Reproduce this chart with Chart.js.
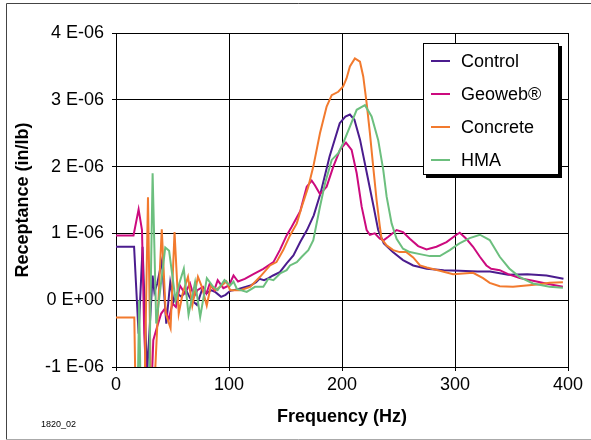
<!DOCTYPE html>
<html>
<head>
<meta charset="utf-8">
<script src="https://cdn.jsdelivr.net/npm/chart.js@4/dist/chart.umd.min.js"></script>
<style>
  html, body { margin: 0; padding: 0; background: #fff; }
  #wrap { width: 591px; height: 440px; position: relative; }
</style>
</head>
<body>
<div id="wrap"><canvas id="c" width="591" height="440"></canvas></div>
<script>
// Receptance values in units of 1E-06 in/lb, frequencies in Hz
const seriesNames = ["Control", "Geoweb®", "Concrete", "HMA"];
const seriesColors = ["#4b1c8e", "#cc0a7e", "#f27a2e", "#6cbf7e"];

const controlFreq = [0,16,20,23.5,27.5,32.4,34,36.5,40.6,44.5,48,51,54,58,62,66,71.6,76,80,84,88,93,97,101,107,113,119,124,127,131,135,139,145,151,157,163,169,175,181,189,198,203,207,211,216,222,228,232,237,245,254,263,275,290,304,320,331,347,364,381,396];
const controlVals = [0.8,0.8,-0.5,0.8,-1.1,0.37,0.12,0.25,0.59,-0.35,0.27,-0.02,0.1,0.05,0.15,0.02,-0.07,0.15,0.1,0.15,0.12,0.05,0.08,0.14,0.16,0.19,0.22,0.27,0.32,0.3,0.33,0.37,0.42,0.55,0.67,0.87,1.05,1.27,1.6,2.15,2.65,2.75,2.78,2.7,2.4,1.9,1.4,1.05,0.85,0.72,0.6,0.52,0.47,0.45,0.44,0.43,0.43,0.38,0.39,0.37,0.32];

const geowebFreq = [0,15.5,20,23,25,28,31,33,36,40,43.5,46.5,50,53,56.5,61,65.5,69,72,77,80,83,87,90,95,100,104,108,114,121.6,130.4,139.3,145,151,155.5,163,168.8,173.2,176,180.5,186.4,192.3,198.2,203.5,208.5,213,217.4,221.8,224.7,229,233.5,237,241,248.3,254,260,267.4,274.8,283.6,292.5,301.3,304.2,310,316,322,327.8,332,339.6,347,357.3,369,383.7,395.5];
const geowebVals = [0.97,0.97,1.36,1.05,-0.5,-1.6,-1.5,-0.6,-0.42,-0.2,-0.12,-0.3,-0.05,-0.1,0.22,0.1,0.25,0.05,0.15,0.2,0.1,0.25,0.15,0.3,0.18,0.22,0.37,0.28,0.32,0.39,0.47,0.57,0.75,0.97,1.1,1.33,1.7,1.79,1.72,1.59,1.7,2.0,2.25,2.36,2.25,1.9,1.4,1.05,0.98,1.0,0.92,0.9,0.95,1.05,1.02,0.92,0.81,0.76,0.8,0.87,0.98,1.01,0.92,0.8,0.65,0.52,0.47,0.45,0.39,0.33,0.29,0.24,0.2];

const concreteFreq = [0,16.2,17.5,25,28.3,31,34,40.5,44,48.3,51.8,55.5,59,63.7,67.5,72.5,76,80.3,84,88,92,97.7,101,104,110,118.7,127.5,136.3,142,148,154,160,164.4,170.2,174.6,180.5,186.4,190.9,196.7,201,204,207,211.4,215.9,218.8,221.8,224.7,227.6,230.6,233.5,235,239.5,245.3,251,257,263,269,275,286.6,298.3,316,324.8,330.7,339.6,351.3,363,375,383.7,395.5];
const concreteVals = [-0.26,-0.26,-1.6,-1.6,1.54,-1.5,-1.3,1.06,-0.2,-0.42,1.02,-0.2,0.1,0.35,-0.08,0.35,0.2,-0.08,0.22,0.15,0.2,0.28,0.15,0.15,0.15,0.2,0.35,0.52,0.57,0.75,0.97,1.15,1.4,1.7,2.0,2.5,2.9,3.07,3.12,3.2,3.32,3.5,3.62,3.57,3.35,2.95,2.5,2.0,1.5,1.1,0.92,0.82,0.75,0.72,0.72,0.64,0.52,0.49,0.44,0.39,0.41,0.33,0.26,0.21,0.2,0.22,0.24,0.26,0.27];

const hmaFreq = [0,19,20.5,22,29,32.4,35.6,43.6,47,52.7,56,60,64.2,70,74.5,80.4,86,90,96,101,104,107,115.7,123,130.4,134.8,139.3,145.2,151,154,160,164.4,170.2,174.6,180.5,185,190.9,196.7,201,207,213,220.3,226.2,232,236.5,239.5,243.9,248.3,254,260,269,277.7,286.6,295.4,301.3,304,313,322,330.7,339.6,348,357,369,383.7,395.5];
const hmaVals = [-1.6,-1.6,0.0,-1.6,-1.6,1.9,-0.35,0.79,0.74,0.0,0.25,0.47,-0.22,0.27,-0.25,0.33,0.2,0.15,0.3,0.22,0.28,0.17,0.125,0.2,0.2,0.32,0.3,0.4,0.45,0.52,0.57,0.65,0.75,0.9,1.4,1.75,2.1,2.2,2.35,2.6,2.85,2.92,2.75,2.4,1.95,1.55,1.15,0.92,0.77,0.72,0.69,0.66,0.66,0.75,0.82,0.85,0.93,0.98,0.9,0.65,0.475,0.35,0.25,0.2,0.185];

const xTicks = [0, 100, 200, 300, 400];
const yTickLabels = {"-1": "-1 E-06", "0": "0 E+00", "1": "1 E-06", "2": "2 E-06", "3": "3 E-06", "4": "4 E-06"};

const FONT = "'Liberation Sans', Arial, sans-serif";

function pts(fx, vy) { return fx.map((f, i) => ({x: f, y: vy[i]})); }

const allFreq = [controlFreq, geowebFreq, concreteFreq, hmaFreq];
const allVals = [controlVals, geowebVals, concreteVals, hmaVals];

const datasets = seriesNames.map((name, i) => ({
  label: name,
  data: pts(allFreq[i], allVals[i]),
  borderColor: seriesColors[i],
  backgroundColor: seriesColors[i],
  borderWidth: 2,
  pointRadius: 0,
  tension: 0,
  fill: false,
  order: 4 - i
}));

const framePlugin = {
  id: 'frame',
  afterDraw(chart) {
    const ctx = chart.ctx;
    ctx.save();
    // outer frame
    ctx.lineWidth = 1;
    ctx.strokeStyle = '#444';
    ctx.beginPath();
    ctx.moveTo(6.5, 439.5); ctx.lineTo(6.5, 3.5); ctx.lineTo(591, 3.5);
    ctx.stroke();
    ctx.strokeStyle = '#aaa';
    ctx.beginPath();
    ctx.moveTo(6.5, 439.5); ctx.lineTo(591, 439.5);
    ctx.stroke();
    // figure id
    ctx.fillStyle = '#000';
    ctx.font = "9px " + FONT;
    ctx.textBaseline = 'middle';
    ctx.textAlign = 'left';
    ctx.fillText('1820_02', 41, 425);

    // legend
    const L = 423, T = 43, R = 559, B = 175;
    ctx.fillStyle = '#000';
    ctx.fillRect(L + 3, T + 3, R - L, B - T);
    ctx.fillStyle = '#fff';
    ctx.fillRect(L, T, R - L, B - T);
    ctx.strokeStyle = '#000';
    ctx.strokeRect(L + 0.5, T + 0.5, R - L - 1, B - T - 1);
    ctx.font = "18px " + FONT;
    chart.data.datasets.forEach((ds, i) => {
      const y = 61 + i * 33;
      ctx.strokeStyle = ds.borderColor;
      ctx.lineWidth = 2;
      ctx.beginPath();
      ctx.moveTo(431, y); ctx.lineTo(450, y);
      ctx.stroke();
      ctx.fillStyle = '#000';
      ctx.fillText(ds.label, 461, y + 1);
    });
    ctx.restore();
  }
};

new Chart(document.getElementById('c'), {
  type: 'line',
  data: { datasets },
  options: {
    responsive: false,
    animation: false,
    layout: { padding: { left: 0, right: 23, top: 33, bottom: 0 } },
    plugins: { legend: { display: false }, tooltip: { enabled: false } },
    scales: {
      x: {
        type: 'linear',
        min: 0, max: 400,
        afterBuildTicks: (s) => { s.ticks = xTicks.map(v => ({value: v})); },
        afterFit: (s) => { s.height = 73; },
        grid: { color: '#000', lineWidth: 1, drawTicks: true, tickLength: 4, tickColor: '#000' },
        border: { color: '#000', width: 1 },
        ticks: { color: '#000', font: { family: FONT, size: 18 }, padding: 3, maxRotation: 0 },
        title: { display: true, text: 'Frequency (Hz)', color: '#000', font: { family: FONT, size: 18, weight: 'bold' }, padding: { top: 0, bottom: 12 } }
      },
      y: {
        type: 'linear',
        min: -1, max: 4,
        ticks: {
          stepSize: 1, color: '#000', font: { family: FONT, size: 18 }, padding: 8,
          callback: (v) => yTickLabels[String(v)]
        },
        afterFit: (s) => { s.width = 116; },
        grid: { color: '#000', lineWidth: 1, drawTicks: true, tickLength: 4, tickColor: '#000' },
        border: { color: '#000', width: 1 },
        title: { display: true, text: 'Receptance (in/lb)', color: '#000', font: { family: FONT, size: 18, weight: 'bold' }, padding: { top: 12.6, bottom: 0 } }
      }
    }
  },
  plugins: [framePlugin]
});
</script>
</body>
</html>
